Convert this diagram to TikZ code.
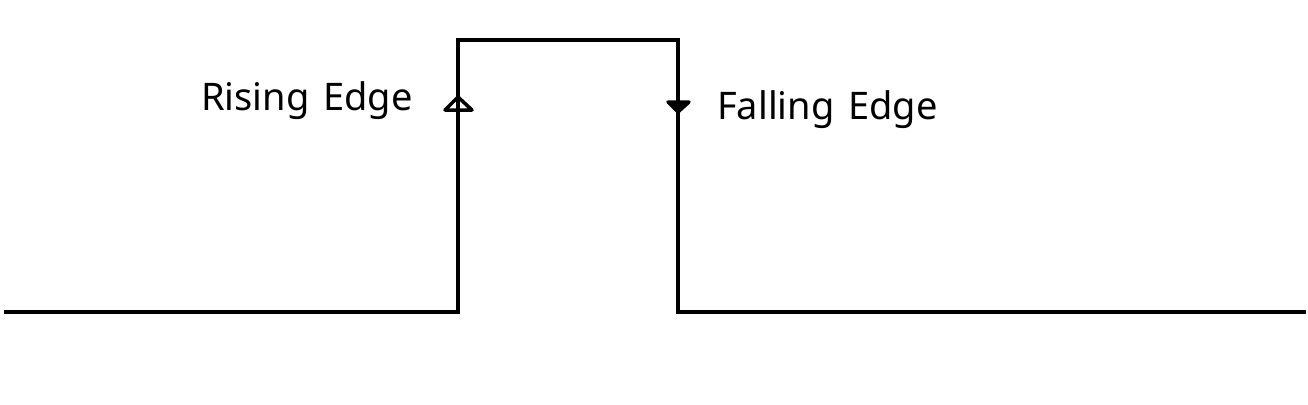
\documentclass[tikz,border=0pt]{standalone}
\usepackage{fontspec}
\setmainfont{Noto Sans}[WordSpace=1.4]
\begin{document}
\begin{tikzpicture}[x=1pt,y=-1pt,
  wave/.style={line width=4.6pt,line join=miter},
  tip/.style={line width=3.5pt,line join=round},
  lbl/.style={font=\fontsize{38}{42}\selectfont,inner sep=0pt,anchor=base west}]
\useasboundingbox (0,0) rectangle (1308,404);
\coordinate (s) at (4,312);
\coordinate (r0) at (458,312);
\coordinate (r1) at (458,40);
\coordinate (f1) at (678,40);
\coordinate (f0) at (678,312);
\coordinate (e) at (1306,312);
\draw[wave] (s) -- (r0) -- (r1) -- (f1) -- (f0) -- (e);
% rising arrowhead (open)
\draw[tip] (445,110) -- (458,97) -- (472,110) -- cycle;
% falling arrowhead (filled)
\draw[tip,fill=black] (668,102) -- (689,102) -- (678,112) -- cycle;
\node[lbl] (rise) at (201,110) {Rising Edge};
\node[lbl] (fall) at (717,119) {Falling Edge};
\end{tikzpicture}
\end{document}
